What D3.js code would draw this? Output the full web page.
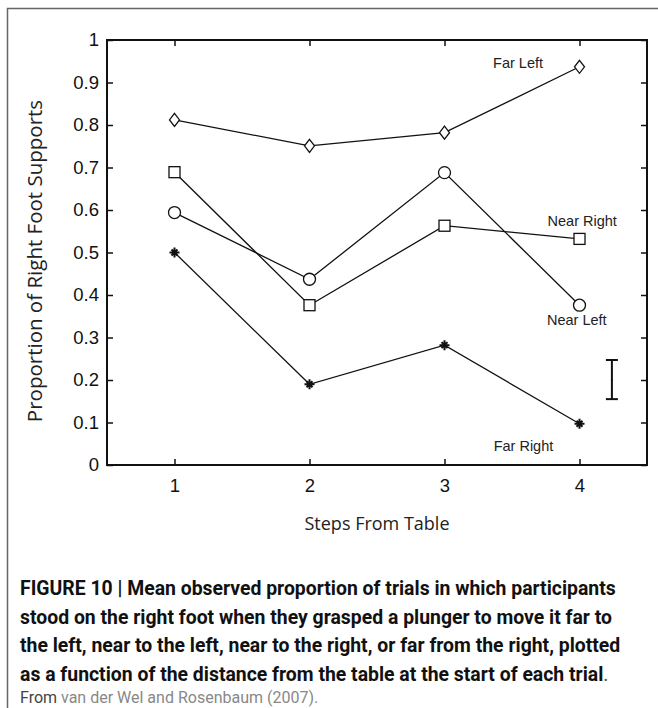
<!DOCTYPE html>
<html>
<head>
<meta charset="utf-8">
<script src="https://cdn.jsdelivr.net/npm/d3@7"></script>
<style>
    body { margin: 0; background: #fff; }
    svg { display: block; }
</style>
</head>
<body>
<div id="plot"></div>
<script>

// data
var steps = [1, 2, 3, 4];
var farLeft = [0.812, 0.751, 0.782, 0.937];
var nearRight = [0.689, 0.376, 0.563, 0.532];
var nearLeft = [0.594, 0.437, 0.688, 0.376];
var farRight = [0.500, 0.190, 0.282, 0.097];

var yTicks = [0, 0.1, 0.2, 0.3, 0.4, 0.5, 0.6, 0.7, 0.8, 0.9, 1];
var yTickLabels = ['0', '0.1', '0.2', '0.3', '0.4', '0.5', '0.6', '0.7', '0.8', '0.9', '1'];

// representative error bar
var errX = [4.24];
var errMean = [0.2];
var errLow = [0.155];
var errHigh = [0.247];

var seriesNames = ['Far Left', 'Near Right', 'Near Left', 'Far Right'];
var seriesMarkers = ['diamond', 'square', 'circle', 'star'];

var captionLines = [
    'FIGURE 10 | Mean observed proportion of trials in which participants',
    'stood on the right foot when they grasped a plunger to move it far to',
    'the left, near to the left, near to the right, or far from the right, plotted',
    'as a function of the distance from the table at the start of each trial'
];

window.onload = function(){

    buildChart();

};

function buildChart(){

    var W = 658, H = 708;

    var margin = {
        left: 107,
        top: 40,
        right: 11,
        bottom: 243
    };

    var width = W - margin.left - margin.right;
    var height = H - margin.top - margin.bottom;

    var xScale = d3.scaleLinear()
    .domain([0.5, 4.5])
    .range([0, width]);

    var yScale = d3.scaleLinear()
    .domain([0, 1])
    .range([height, 0]);

    var root = d3.select("#plot")
                .append("svg")
                .attr("width", W)
                .attr("height", H);

    // outer figure frame (only left and top edges visible)
    root.append("path")
        .attr("d", "M7.5," + H + "V8.5H" + W)
        .attr("fill", "none")
        .attr("stroke", "#666")
        .attr("stroke-width", 1.5);

    var svg = root.append("g")
                .attr("transform", "translate(" + margin.left + "," + margin.top + ")");

    // axes, ticks pointing inward on all four sides
    var xAxis = d3.axisBottom(xScale).tickValues(steps).tickFormat(d3.format("d"))
        .tickSizeInner(-6).tickSizeOuter(0).tickPadding(14);
    var xAxisTop = d3.axisTop(xScale).tickValues(steps).tickFormat("")
        .tickSizeInner(-6).tickSizeOuter(0);
    var yAxis = d3.axisLeft(yScale).tickValues(yTicks).tickFormat((d, i) => yTickLabels[i])
        .tickSizeInner(-6).tickSizeOuter(0).tickPadding(8);
    var yAxisRight = d3.axisRight(yScale).tickValues(yTicks).tickFormat("")
        .tickSizeInner(-6).tickSizeOuter(0);

    var gx = svg.append("g").attr("transform", "translate(0," + height + ")").call(xAxis);
    var gxt = svg.append("g").call(xAxisTop);
    var gy = svg.append("g").call(yAxis);
    var gyr = svg.append("g").attr("transform", "translate(" + width + ",0)").call(yAxisRight);

    [gx, gxt, gy, gyr].forEach(g => {
        g.select(".domain").remove();
        g.selectAll(".tick line").attr("stroke", "#111").attr("stroke-width", 1.5);
        g.selectAll("text")
            .attr("fill", "#111")
            .style("font-family", "'Liberation Sans', Arial, sans-serif")
            .style("font-size", "18.5px");
    });

    // box
    svg.append("rect")
        .attr("x", 0)
        .attr("y", 0)
        .attr("width", width)
        .attr("height", height)
        .attr("fill", "none")
        .attr("stroke", "#111")
        .attr("stroke-width", 2);

    var allSeries = [farLeft, nearRight, nearLeft, farRight];

    var line = d3.line()
        .x((d, i) => xScale(steps[i]))
        .y(d => yScale(d));

    allSeries.forEach((values, k) => {

        svg.append("path")
            .datum(values)
            .attr("d", line)
            .attr("fill", "none")
            .attr("stroke", "#111")
            .attr("stroke-width", 1.3);

        var pts = svg.append("g")
            .selectAll("g.pt")
            .data(values)
            .enter()
            .append("g")
            .attr("transform", (d, i) => "translate(" + xScale(steps[i]) + "," + yScale(d) + ")");

        var kind = seriesMarkers[k];

        if(kind == 'diamond'){
            pts.append("path")
                .attr("d", "M0,-6.5L5,0L0,6.5L-5,0Z")
                .attr("fill", "#fff").attr("stroke", "#111").attr("stroke-width", 1.3);
        }
        if(kind == 'square'){
            pts.append("rect")
                .attr("x", -5.5).attr("y", -5.5).attr("width", 11).attr("height", 11)
                .attr("fill", "#fff").attr("stroke", "#111").attr("stroke-width", 1.3);
        }
        if(kind == 'circle'){
            pts.append("circle")
                .attr("r", 6)
                .attr("fill", "#fff").attr("stroke", "#111").attr("stroke-width", 1.3);
        }
        if(kind == 'star'){
            pts.append("path")
                .attr("d", "M-5,0H5M0,-5V5M-3,-3L3,3M-3,3L3,-3")
                .attr("fill", "none").attr("stroke", "#111").attr("stroke-width", 2);
        }

    });

    // series labels
    var labelX = [3.545, 4.02, 3.98, 3.585];
    var labelY = [0.934, 0.562, 0.329, 0.033];

    svg.append("g")
        .selectAll("text")
        .data(seriesNames)
        .enter()
        .append("text")
        .attr("x", (d, i) => xScale(labelX[i]))
        .attr("y", (d, i) => yScale(labelY[i]))
        .attr("text-anchor", "middle")
        .attr("fill", "#222")
        .style("font-family", "'Liberation Sans', Arial, sans-serif")
        .style("font-size", "14.5px")
        .text(d => d);

    // error bar
    var eb = svg.append("g")
        .selectAll("g")
        .data(errX)
        .enter()
        .append("g");

    eb.append("line")
        .attr("x1", d => xScale(d)).attr("x2", d => xScale(d))
        .attr("y1", (d, i) => yScale(errLow[i])).attr("y2", (d, i) => yScale(errHigh[i]))
        .attr("stroke", "#111").attr("stroke-width", 2);
    eb.append("line")
        .attr("x1", d => xScale(d) - 6).attr("x2", d => xScale(d) + 6)
        .attr("y1", (d, i) => yScale(errLow[i])).attr("y2", (d, i) => yScale(errLow[i]))
        .attr("stroke", "#111").attr("stroke-width", 2);
    eb.append("line")
        .attr("x1", d => xScale(d) - 6).attr("x2", d => xScale(d) + 6)
        .attr("y1", (d, i) => yScale(errHigh[i])).attr("y2", (d, i) => yScale(errHigh[i]))
        .attr("stroke", "#111").attr("stroke-width", 2);
    eb.append("circle")
        .attr("cx", d => xScale(d))
        .attr("cy", (d, i) => yScale(errMean[i]))
        .attr("r", 1)
        .attr("fill", "#111");

    // axis titles
    root.append("text")
        .attr("transform", "translate(42,261) rotate(-90)")
        .attr("text-anchor", "middle")
        .attr("fill", "#222")
        .style("font-family", "'Open Sans', sans-serif")
        .style("font-size", "20.5px")
        .text("Proportion of Right Foot Supports");

    root.append("text")
        .attr("x", margin.left + width / 2)
        .attr("y", 530)
        .attr("text-anchor", "middle")
        .attr("fill", "#222")
        .style("font-family", "'Open Sans', sans-serif")
        .style("font-size", "18px")
        .text("Steps From Table");

    // caption
    var cap = root.append("g")
        .style("font-family", "Roboto, 'Liberation Sans', sans-serif");

    cap.selectAll("text.cl")
        .data(captionLines)
        .enter()
        .append("text")
        .attr("x", 20)
        .attr("y", (d, i) => 595 + i * 28.5)
        .attr("fill", "#111")
        .style("font-size", "19.4px")
        .style("font-weight", "700")
        .text((d, i) => d);

    cap.select("text:last-child")
        .append("tspan")
        .style("font-weight", "400")
        .attr("fill", "#555")
        .text(".");

    var src = cap.append("text")
        .attr("x", 20)
        .attr("y", 703)
        .style("font-size", "16px");
    src.append("tspan").attr("fill", "#444").text("From ");
    src.append("tspan").attr("fill", "#888").text("van der Wel and Rosenbaum (2007).");

}
</script>
</body>
</html>
